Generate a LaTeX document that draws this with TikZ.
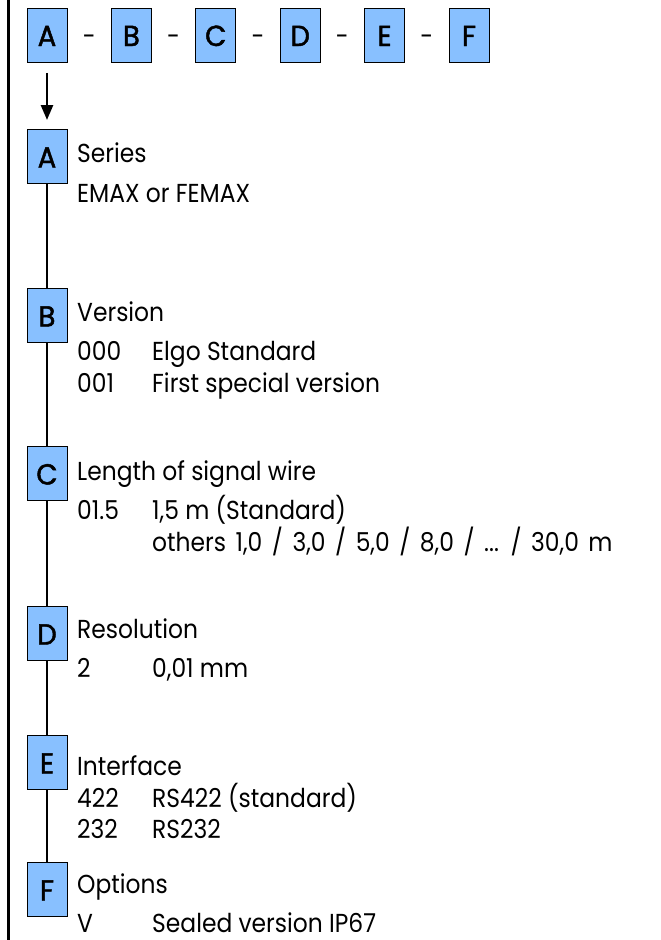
\documentclass[tikz,border=0pt]{standalone}
\usepackage{fontspec}
\setmainfont{Poppins}[FakeStretch=0.9]
\newfontfamily\letterfont{Poppins}[FakeStretch=0.95,FakeBold=1.6]
\usetikzlibrary{arrows.meta}
\definecolor{boxblue}{RGB}{136,192,255}
\tikzset{
  keybox/.style={draw=black,line width=0.8pt,fill=boxblue,minimum width=40pt,minimum height=54pt,inner sep=0pt,anchor=north},
  keyletter/.style={font=\letterfont\fontsize{29}{29}\selectfont,inner sep=0pt,anchor=base},
  txt/.style={font=\fontsize{26}{26}\selectfont,inner sep=0pt,anchor=base west},
  dashlbl/.style={font=\fontsize{26}{26}\selectfont,inner sep=0pt,anchor=base},
  stem/.style={line width=2.6pt},
}
\begin{document}
\begin{tikzpicture}[x=1pt,y=-1pt]
\useasboundingbox (0,0) rectangle (661,940);
% left rule
\coordinate (lt) at (8.5,0);
\coordinate (lb) at (8.5,940);
\draw[line width=3pt] (lt) -- (lb);
% header row
\foreach \l/\x in {A/47,B/131.4,C/215.8,D/300.2,E/384.6,F/469}{
  \node[keybox] (h\l) at (\x,8) {};
  \node[keyletter] (hl\l) at (\x,46) {\l};
}
\foreach \i/\x in {1/89.2,2/173.6,3/258,4/342.4,5/426.8}{
  \node[dashlbl] (dash\i) at (\x,45) {-};
}
% column boxes
\foreach \l/\y in {A/129,B/288,C/446,D/606,E/735,F/862}{
  \node[keybox] (c\l) at (47,\y) {};
  \node[keyletter] (cl\l) at (47,\y+38.5) {\l};
}
% arrow
\draw[stem,-{Triangle[length=15pt,width=12pt]},shorten <=10pt,shorten >=9pt] (hA.south) -- (cA.north);
% connectors
\draw[stem] (cA.south) -- (cB.north);
\draw[stem] (cB.south) -- (cC.north);
\draw[stem] (cC.south) -- (cD.north);
\draw[stem] (cD.south) -- (cE.north);
\draw[stem] (cE.south) -- (cF.north);
% texts
\node[txt] (tA) at (77,162) {Series};
\node[txt] (tA1) at (77,202) {EMAX or FEMAX};
\node[txt] (tB) at (77,321) {Version};
\node[txt] (tB1) at (77,360) {000};
\node[txt] (tB1b) at (152,360) {Elgo Standard};
\node[txt] (tB2) at (77,392) {001};
\node[txt] (tB2b) at (152,392) {First special version};
\node[txt] (tC) at (77,480) {Length of signal wire};
\node[txt] (tC1) at (77,519) {01.5};
\node[txt] (tC1b) at (152,519) {1,5 m (Standard)};
\node[txt] (tC2b) at (152,551) {\spaceskip=9.5pt others 1,0 / 3,0 / 5,0 / 8,0 / ... / 30,0 m};
\node[txt] (tD) at (77,638) {Resolution};
\node[txt] (tD1) at (77,677) {2};
\node[txt] (tD1b) at (152,677) {0,01 mm};
\node[txt] (tE) at (77,775) {Interface};
\node[txt] (tE1) at (77,807) {422};
\node[txt] (tE1b) at (152,807) {RS422 (standard)};
\node[txt] (tE2) at (77,838) {232};
\node[txt] (tE2b) at (152,838) {RS232};
\node[txt] (tF) at (77,893) {Options};
\node[txt] (tF1) at (77,932) {V};
\node[txt] (tF1b) at (152,932) {Sealed version IP67};
\end{tikzpicture}
\end{document}
